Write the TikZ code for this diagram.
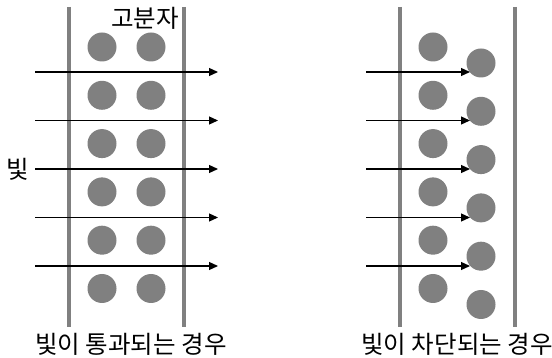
\documentclass[tikz,border=0pt]{standalone}
\usepackage{fontspec}
\setmainfont{Noto Sans CJK KR}
\usetikzlibrary{arrows.meta}
\definecolor{mgray}{RGB}{128,128,128}
\tikzset{
  wall/.style={draw=mgray, line width=4pt},
  mol/.style={circle, fill=mgray, draw=none, minimum size=29pt, inner sep=0pt},
  ray/.style={draw=black, line width=1.2pt, -{Triangle[length=9pt,width=8pt]}},
  lbl/.style={font=\fontsize{24.5pt}{28pt}\selectfont, inner sep=0pt, text=black}
}
\begin{document}
\begin{tikzpicture}[x=1pt,y=-1pt]
\useasboundingbox (0,0) rectangle (552,358);
% left panel walls
\coordinate (lwt) at (69,7); \coordinate (lwb) at (69,327);
\coordinate (rwt) at (184,7); \coordinate (rwb) at (184,327);
\draw[wall] (lwt) -- (lwb);
\draw[wall] (rwt) -- (rwb);
% left panel molecules
\foreach \i/\y in {1/47,2/95.3,3/143.6,4/191.9,5/240.2,6/288.5}{
  \node[mol] (a\i) at (102,\y) {};
  \node[mol] (b\i) at (151,\y) {};
}
% left panel rays
\foreach \i/\y in {1/72,2/120.5,3/169,4/217.5,5/266}{
  \coordinate (ls\i) at (35,\y);
  \coordinate (le\i) at (218,\y);
  \draw[ray] (ls\i) -- (le\i);
}
\node[lbl] (poly) at (145,18) {고분자};
\node[lbl] (light) at (17.5,169) {빛};
\node[lbl] (cap1) at (131,344) {빛이 통과되는 경우};
% right panel walls
\coordinate (Lwt) at (400,7); \coordinate (Lwb) at (400,327);
\coordinate (Rwt) at (515,7); \coordinate (Rwb) at (515,327);
\draw[wall] (Lwt) -- (Lwb);
\draw[wall] (Rwt) -- (Rwb);
\foreach \i/\y in {1/47,2/95.3,3/143.6,4/191.9,5/240.2,6/288.5}{
  \node[mol] (c\i) at (433,\y) {};
  \node[mol] (d\i) at (481,\y+16) {};
}
\foreach \i/\y in {1/72,2/120.5,3/169,4/217.5,5/266}{
  \coordinate (rs\i) at (366,\y);
  \coordinate (re\i) at (470,\y);
  \draw[ray] (rs\i) -- (re\i);
}
\node[lbl] (cap2) at (457,344) {빛이 차단되는 경우};
\end{tikzpicture}
\end{document}
